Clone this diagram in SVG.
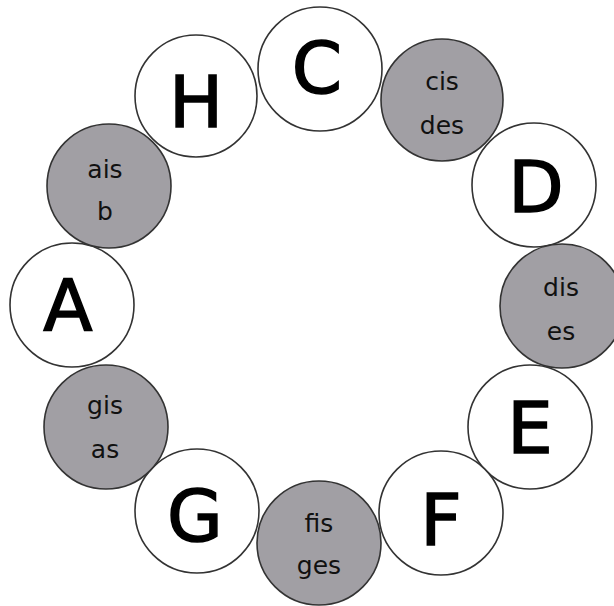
<svg xmlns="http://www.w3.org/2000/svg" width="614" height="606" viewBox="0 0 614 606">
  <style>
    .ring { stroke: #333; stroke-width: 1.6; }
    .natural { fill: #ffffff; }
    .accidental { fill: #a19fa4; }
    .big { font-family: "DejaVu Sans", "Liberation Sans", sans-serif; font-size: 72px; font-weight: normal; fill: #000; stroke: #000; stroke-width: 1.5; text-anchor: middle; }
    .small { font-family: "DejaVu Sans", "Liberation Sans", sans-serif; font-size: 25px; fill: #111; text-anchor: middle; }
  </style>
  <rect width="614" height="606" fill="#ffffff"/>
  <g id="connectors"/>

  <g id="node-C">
    <circle class="ring natural" cx="320" cy="69" r="62"/>
    <text class="big" x="317" y="93">C</text>
  </g>
  <g id="node-cis-des">
    <circle class="ring accidental" cx="442" cy="100" r="61"/>
    <text class="small" x="442" y="90">cis</text>
    <text class="small" x="442" y="134">des</text>
  </g>
  <g id="node-D">
    <circle class="ring natural" cx="534" cy="185" r="62"/>
    <text class="big" x="536" y="212">D</text>
  </g>
  <g id="node-dis-es">
    <circle class="ring accidental" cx="562" cy="306" r="62"/>
    <text class="small" x="561" y="296">dis</text>
    <text class="small" x="561" y="340">es</text>
  </g>
  <g id="node-E">
    <circle class="ring natural" cx="530" cy="427" r="62"/>
    <text class="big" x="530" y="453">E</text>
  </g>
  <g id="node-F">
    <circle class="ring natural" cx="441" cy="513" r="62"/>
    <text class="big" x="441" y="545">F</text>
  </g>
  <g id="node-fis-ges">
    <circle class="ring accidental" cx="319" cy="543" r="62"/>
    <text class="small" x="319" y="532">fis</text>
    <text class="small" x="319" y="574">ges</text>
  </g>
  <g id="node-G">
    <circle class="ring natural" cx="197" cy="511" r="62"/>
    <text class="big" x="195" y="541">G</text>
  </g>
  <g id="node-gis-as">
    <circle class="ring accidental" cx="106" cy="427" r="62"/>
    <text class="small" x="105" y="414">gis</text>
    <text class="small" x="105" y="458">as</text>
  </g>
  <g id="node-A">
    <circle class="ring natural" cx="72" cy="305" r="62"/>
    <text class="big" x="68" y="330">A</text>
  </g>
  <g id="node-ais-b">
    <circle class="ring accidental" cx="109" cy="186" r="62"/>
    <text class="small" x="105" y="178">ais</text>
    <text class="small" x="105" y="220">b</text>
  </g>
  <g id="node-H">
    <circle class="ring natural" cx="196" cy="96" r="61"/>
    <text class="big" x="196" y="127">H</text>
  </g>
</svg>
